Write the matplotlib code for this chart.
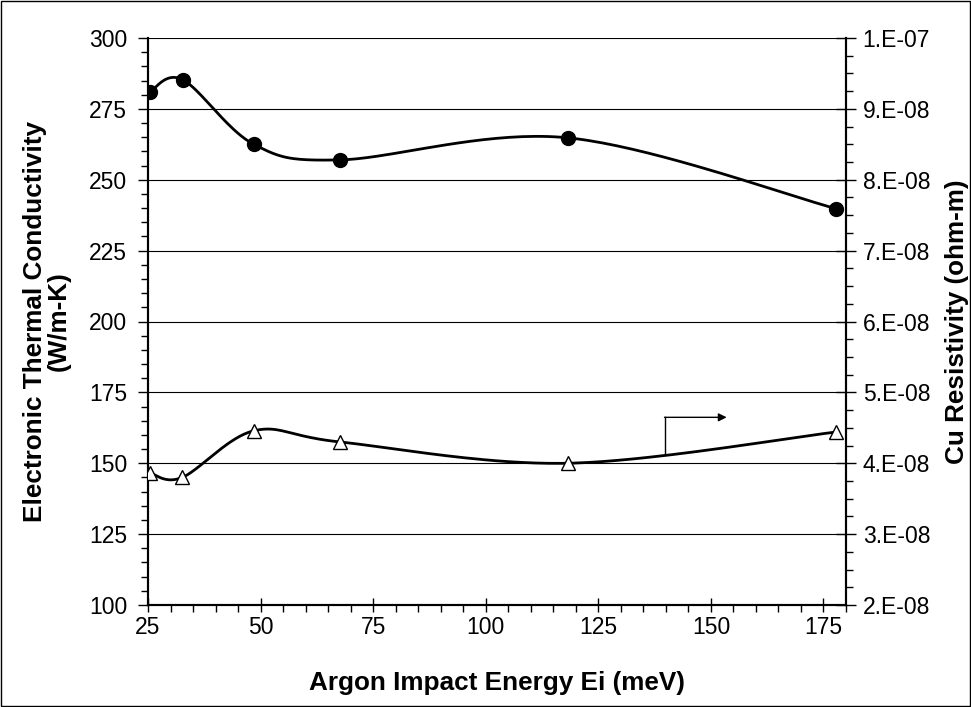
import numpy as np
import matplotlib
matplotlib.use("Agg")
import matplotlib.pyplot as plt
from matplotlib.ticker import MultipleLocator, FixedLocator, FixedFormatter

plt.rcParams['font.family'] = ['Liberation Sans', 'DejaVu Sans']

# Data
energy_k = [25.4, 32.7, 48.5, 67.6, 118.2, 177.8]
thermal_k = [281.0, 285.3, 262.5, 257.0, 264.8, 239.8]
energy_r = [25.5, 32.6, 48.6, 67.7, 118.2, 177.7]
resistivity = [3.86e-8, 3.80e-8, 4.46e-8, 4.30e-8, 4.00e-8, 4.44e-8]
x_ticks = [25, 50, 75, 100, 125, 150, 175]
left_ticks = [100, 125, 150, 175, 200, 225, 250, 275, 300]
right_ticks = [2e-8, 3e-8, 4e-8, 5e-8, 6e-8, 7e-8, 8e-8, 9e-8, 1e-7]
right_labels = ['2.E-08', '3.E-08', '4.E-08', '5.E-08', '6.E-08', '7.E-08', '8.E-08', '9.E-08', '1.E-07']


def smooth(x, y, n=40):
    x = np.asarray(x, float); y = np.asarray(y, float)
    P = np.column_stack([x, y])
    pts = [P[0]]
    for i in range(len(P) - 1):
        p0 = P[i - 1] if i > 0 else P[i]
        p1 = P[i]; p2 = P[i + 1]
        p3 = P[i + 2] if i + 2 < len(P) else P[i + 1]
        c1 = p1 + (p2 - p0) / 6.0
        c2 = p2 - (p3 - p1) / 6.0
        t = np.linspace(0, 1, n)[1:, None]
        seg = ((1 - t) ** 3) * p1 + 3 * ((1 - t) ** 2) * t * c1 + 3 * (1 - t) * t ** 2 * c2 + t ** 3 * p2
        pts.extend(seg)
    pts = np.array(pts)
    return pts[:, 0], pts[:, 1]


fig = plt.figure(figsize=(9.71, 7.07), dpi=100)
ax = fig.add_axes([148 / 971, 1 - 605 / 707, (846 - 148) / 971, (605 - 38) / 707])
ax2 = ax.twinx()

# border around figure
fig.patches.append(plt.Rectangle((0.001, 0.001), 0.998, 0.998, transform=fig.transFigure,
                                 fill=False, edgecolor='black', linewidth=1.0))

sx, sy = smooth(energy_k, thermal_k)
ax.plot(sx, sy, color='black', linewidth=2, zorder=3)
ax.plot(energy_k, thermal_k, linestyle='none', marker='o', markersize=10,
        markerfacecolor='black', markeredgecolor='black', zorder=4)

rx, ry = smooth(energy_r, resistivity)
ax2.plot(rx, ry, color='black', linewidth=2, zorder=3)
ax2.plot(energy_r, resistivity, linestyle='none', marker='^', markersize=10.5,
         markerfacecolor='white', markeredgecolor='black', markeredgewidth=1.0, zorder=4)

ax.set_xlim(25, 180)
ax.set_ylim(100, 300)
ax2.set_ylim(2e-8, 1e-7)

ax.xaxis.set_major_locator(FixedLocator(x_ticks))
ax.xaxis.set_minor_locator(MultipleLocator(5))
ax.yaxis.set_major_locator(FixedLocator(left_ticks))
ax.yaxis.set_minor_locator(MultipleLocator(5))
ax2.yaxis.set_major_locator(FixedLocator(right_ticks))
ax2.yaxis.set_major_formatter(FixedFormatter(right_labels))
ax2.yaxis.set_minor_locator(MultipleLocator(0.25e-8))

ax.grid(axis='y', which='major', color='black', linewidth=0.8)
ax.set_axisbelow(True)

ax.tick_params(axis='x', which='major', direction='inout', length=10, width=1, labelsize=16.5, pad=3)
ax.tick_params(axis='x', which='minor', direction='out', length=5, width=1)
ax.tick_params(axis='y', which='major', direction='out', length=7, width=1, labelsize=16.5, pad=8)
ax.tick_params(axis='y', which='minor', direction='out', length=5, width=1)
ax2.tick_params(axis='y', which='major', direction='inout', length=14, width=1, labelsize=16.5, pad=5)
ax2.tick_params(axis='y', which='minor', direction='out', length=5, width=1)

for a in (ax, ax2):
    a.spines['top'].set_visible(False)
    a.spines['left'].set_linewidth(1.5)
    a.spines['right'].set_linewidth(1.5)
    a.spines['bottom'].set_linewidth(1.5)

ax.set_xlabel('Argon Impact Energy Ei (meV)', fontsize=18.8, fontweight='bold')
ax.xaxis.set_label_coords(0.5, -(683 - 605) / 567, transform=ax.transAxes)
ax.xaxis.label.set_va('center')
ax.set_ylabel('Electronic Thermal Conductivity\n(W/m-K)', fontsize=18.8, fontweight='bold',
              linespacing=1.0)
ax.yaxis.set_label_coords(-(148 - 47) / 698, 0.5, transform=ax.transAxes)
ax.yaxis.label.set_va('center')
ax2.set_ylabel('Cu Resistivity (ohm-m)', fontsize=18.8, fontweight='bold')
ax2.yaxis.set_label_coords(1 + (957 - 846) / 698, 0.5, transform=ax2.transAxes)
ax2.yaxis.label.set_va('center')

# arrow pointing to right axis
ax.plot([139.7, 139.7], [153.0, 166.2], color='black', linewidth=1)
ax.annotate('', xy=(153.5, 166.2), xytext=(139.7, 166.2),
            arrowprops=dict(arrowstyle='-|>', color='black', linewidth=1, mutation_scale=12,
                            shrinkA=0, shrinkB=0))

fig.savefig('out.png', dpi=100)
